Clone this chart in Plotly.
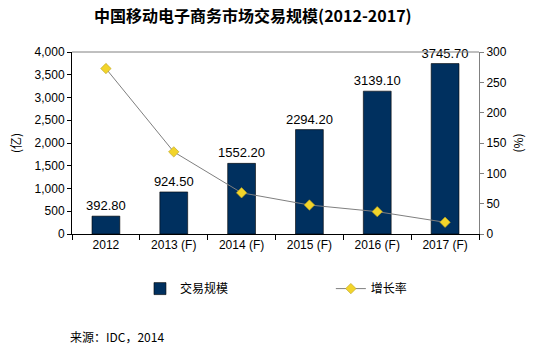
import plotly.graph_objects as go

categories = ["2012", "2013 (F)", "2014 (F)", "2015 (F)", "2016 (F)", "2017 (F)"]
scale_values = [392.80, 924.50, 1552.20, 2294.20, 3139.10, 3745.70]
growth_values = [272.7, 135.4, 67.9, 47.8, 36.8, 19.3]

FONT = "Liberation Sans, Arial, sans-serif"
CJK = "Noto Sans CJK SC, sans-serif"

fig = go.Figure()
fig.add_trace(go.Bar(
    x=categories, y=scale_values, name="交易规模", legend="legend",
    marker=dict(color="#00305F", line=dict(color="#000000", width=0.6)),
    text=[f"{v:.2f}" for v in scale_values], textposition="outside",
    textfont=dict(family=FONT, size=13, color="#000000"),
    constraintext="none", cliponaxis=False, width=0.41,
))
fig.add_trace(go.Scatter(
    x=categories, y=growth_values, name="增长率", yaxis="y2", legend="legend2",
    mode="lines+markers",
    line=dict(color="#7F7F7F", width=1),
    marker=dict(symbol="diamond", size=8, color="#F2D42A", line=dict(color="#B8A020", width=0.6)),
))

legend_common = dict(orientation="h", y=-0.30, yanchor="middle", xanchor="left",
                     font=dict(family=CJK, size=12), bgcolor="rgba(0,0,0,0)")

fig.update_layout(
    width=538, height=345,
    margin=dict(l=72, r=59, t=52, b=111),
    paper_bgcolor="white", plot_bgcolor="white",
    font=dict(family=FONT, size=12, color="#000000"),
    title=dict(text="<b>中国移动电子商务市场交易规模(2012-2017)</b>", x=0.47, xanchor="center",
               y=1 - 16 / 345, yanchor="middle", font=dict(family=CJK, size=16, color="#000000")),
    xaxis=dict(showline=True, linecolor="#000000", linewidth=1, ticks="outside", tickson="boundaries",
               ticklen=5, tickcolor="#000000", showgrid=False,
               tickfont=dict(family=FONT, size=12)),
    yaxis=dict(range=[0, 4000], dtick=500, tickformat=",", showline=True, linecolor="#000000",
               linewidth=1, ticks="outside", ticklen=4, tickcolor="#000000", showgrid=False,
               zeroline=False, tickfont=dict(family=FONT, size=12),
               title=dict(text="(亿)", font=dict(family=CJK, size=12), standoff=10)),
    yaxis2=dict(range=[0, 300], dtick=50, overlaying="y", side="right", showline=True,
                linecolor="#808080", linewidth=1, ticks="outside", ticklen=4, tickcolor="#808080",
                showgrid=False, zeroline=False, tickfont=dict(family=FONT, size=12),
                title=dict(text="(%)", font=dict(family=CJK, size=12), standoff=8)),
    legend=dict(x=0.167, **legend_common),
    legend2=dict(x=0.636, **legend_common),
    showlegend=True,
    bargap=0.59,
)
fig.add_shape(type="line", xref="paper", yref="paper", x0=0, x1=1, y0=1, y1=1,
              line=dict(color="#808080", width=1))
fig.add_annotation(text="来源：IDC，2014", xref="paper", yref="paper", x=-0.01, y=-0.565,
                   xanchor="left", yanchor="middle", showarrow=False,
                   font=dict(family=CJK, size=12, color="#000000"))

fig.write_html("out.html")
